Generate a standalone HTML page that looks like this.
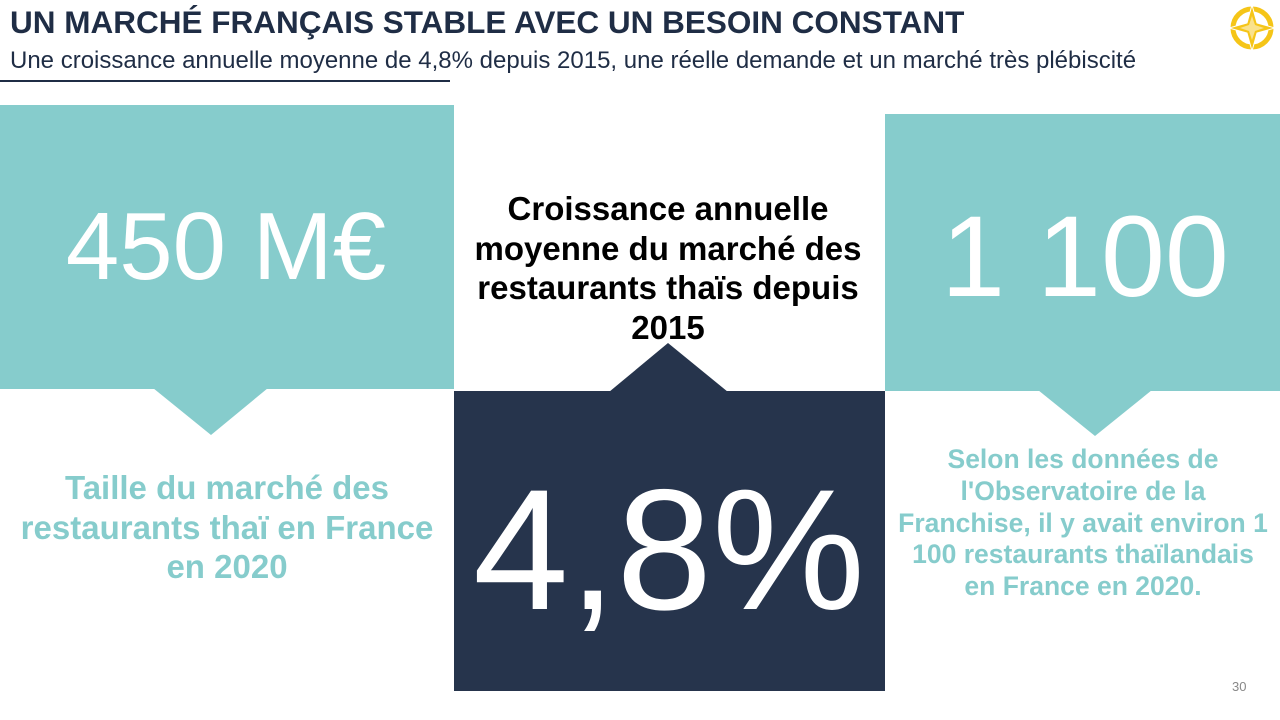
<!DOCTYPE html>
<html><head><meta charset="utf-8">
<style>
*{margin:0;padding:0;box-sizing:border-box}
body{width:1280px;height:720px;position:relative;background:#fff;font-family:"Liberation Sans",Arial,sans-serif;overflow:hidden}
.a{position:absolute}
.c{text-align:center}
</style></head><body>
<div class="a" style="left:10px;top:4px;font-size:31.5px;font-weight:bold;color:#1f2d45;white-space:nowrap">UN MARCHÉ FRANÇAIS STABLE AVEC UN BESOIN CONSTANT</div>
<div class="a" style="left:10px;top:47px;font-size:24px;color:#1f2d45;white-space:nowrap">Une croissance annuelle moyenne de 4,8% depuis 2015, une réelle demande et un marché très plébiscité</div>
<div class="a" style="left:0;top:80px;width:450px;height:2px;background:#1f2d45"></div>
<svg class="a" style="left:1228px;top:4px" width="48" height="48" viewBox="0 0 48 48">
<circle cx="24" cy="24" r="19" fill="none" stroke="#f5c518" stroke-width="5"/>
<polygon points="24,1 29,19 47,24 29,29 24,47 19,29 1,24 19,19" fill="#f5c518" stroke="#fff" stroke-width="1"/>
<polygon points="24,12 27,21 36,24 27,27 24,36 21,27 12,24 21,21" fill="#fff" opacity="0.5"/>
</svg>

<div class="a" style="left:0;top:105px;width:454px;height:284px;background:#86cccc"></div>
<svg class="a" style="left:0;top:0" width="1280" height="720">
<polygon points="153,388 268,388 211,435" fill="#86cccc"/>
<polygon points="1038,390 1152,390 1095,436" fill="#86cccc"/>
<polygon points="609,392 728,392 668,343" fill="#26344c"/>
</svg>
<div class="a c" style="left:0;top:192px;width:452px;font-size:96px;color:#fff;line-height:110px">450 M€</div>

<div class="a" style="left:885px;top:114px;width:395px;height:277px;background:#86cccc"></div>
<div class="a c" style="left:885px;top:192px;width:400px;font-size:115px;color:#fff;line-height:130px">1 100</div>

<div class="a" style="left:454px;top:391px;width:431px;height:300px;background:#26344c"></div>
<div class="a c" style="left:454px;top:460px;width:430px;font-size:172px;color:#fff;line-height:180px">4,8%</div>

<div class="a c" style="left:448px;top:189px;width:440px;font-size:33px;font-weight:bold;color:#000;line-height:39.5px">Croissance annuelle<br>moyenne du marché des<br>restaurants thaïs depuis<br>2015</div>

<div class="a c" style="left:0;top:468px;width:454px;font-size:33px;font-weight:bold;color:#86cccc;line-height:39.5px">Taille du marché des<br>restaurants thaï en France<br>en 2020</div>

<div class="a c" style="left:883px;top:444px;width:400px;font-size:26.5px;font-weight:bold;color:#86cccc;line-height:31.8px">Selon les données de<br>l'Observatoire de la<br>Franchise, il y avait environ 1<br>100 restaurants thaïlandais<br>en France en 2020.</div>

<div class="a" style="left:1232px;top:679px;font-size:13px;color:#888">30</div>
</body></html>
